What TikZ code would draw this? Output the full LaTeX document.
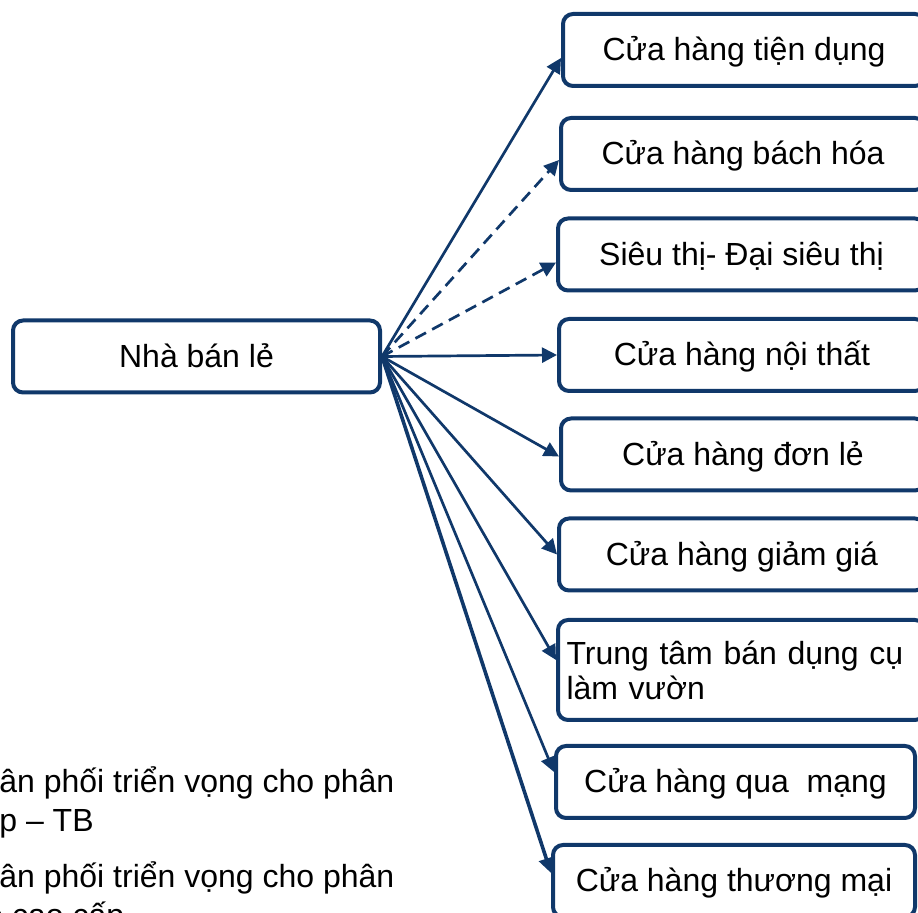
\documentclass[tikz,border=0pt]{standalone}
\usepackage{fontspec}
\setmainfont{Liberation Sans}
\usetikzlibrary{arrows.meta}
\definecolor{navy}{RGB}{16,56,106}

\begin{document}
\begin{tikzpicture}[x = 0.5pt, y = -0.5pt, font = \fontsize{16}{17.5}\selectfont,
  box/.style = {draw = navy, line width = 2pt, rounded corners = 5pt, minimum height = 36pt, inner sep = 0pt},
  oneline/.style = {box, text height = 11.5pt, text depth = 0.5pt},
  link/.style = {draw = navy, line width = 1.35pt, -{Triangle[length = 7.5pt, width = 7.5pt]}},
  maybe/.style = {link, dash pattern = on 6pt off 3.5pt},
  note/.style = {anchor = base west, inner sep = 0pt}]
\useasboundingbox (0,0) rectangle (918,913);
\draw (196.5,356.5) node[oneline, minimum width = 183.5pt] (0) {Nhà bán lẻ};
\draw (744,50) node[oneline, minimum width = 181pt] (1) {Cửa hàng tiện dụng}; \draw[link] (0.east) -- ([yshift = -4pt]1.west);
\draw (743,154) node[oneline, minimum width = 182pt] (2) {Cửa hàng bách hóa}; \draw[maybe] (0.east) -- ([yshift = -3pt]2.west);
\draw (741.5,254.5) node[oneline, minimum width = 183.5pt] (3) {Siêu thị- Đại siêu thị}; \draw[maybe] (0.east) -- ([yshift = -4pt]3.west);
\draw (742,355) node[oneline, minimum width = 183pt] (4) {Cửa hàng nội thất}; \draw[link] (0.east) -- (4.west);
\draw (743,454.5) node[oneline, minimum width = 182pt] (5) {Cửa hàng đơn lẻ}; \draw[link] (0.east) -- ([yshift = -1pt]5.west);
\draw (742,554.5) node[oneline, minimum width = 183pt] (6) {Cửa hàng giảm giá}; \draw[link] (0.east) -- (6.west);
\draw (741.5,670) node[box, minimum width = 183.5pt, minimum height = 50pt, text width = 175pt, align = left] (7) {Trung tâm bán dụng cụ\\làm vườn}; \draw[link] (0.east) -- ([yshift = 5pt]7.west);
\draw (735.5,782) node[oneline, minimum width = 179.5pt] (8) {Cửa hàng qua\ \ mạng}; \draw[link] (0.east) -- ([yshift = 5pt]8.west);
\draw (734,881) node[oneline, minimum width = 181pt] (9) {Cửa hàng thương mại}; \draw[link, line width = 1.8pt] (0.east) -- ([yshift = 4pt]9.west);
% text left over from the slide behind
\draw (-1,793) node[note] (n1) {ân phối triển vọng cho phân};
\draw (-1,832) node[note] (n2) {p – TB};
\draw (-1,888) node[note] (n3) {ân phối triển vọng cho phân};
\draw (-15,927) node[note] (n4) {o cao cấp};
\end{tikzpicture}
\end{document}
